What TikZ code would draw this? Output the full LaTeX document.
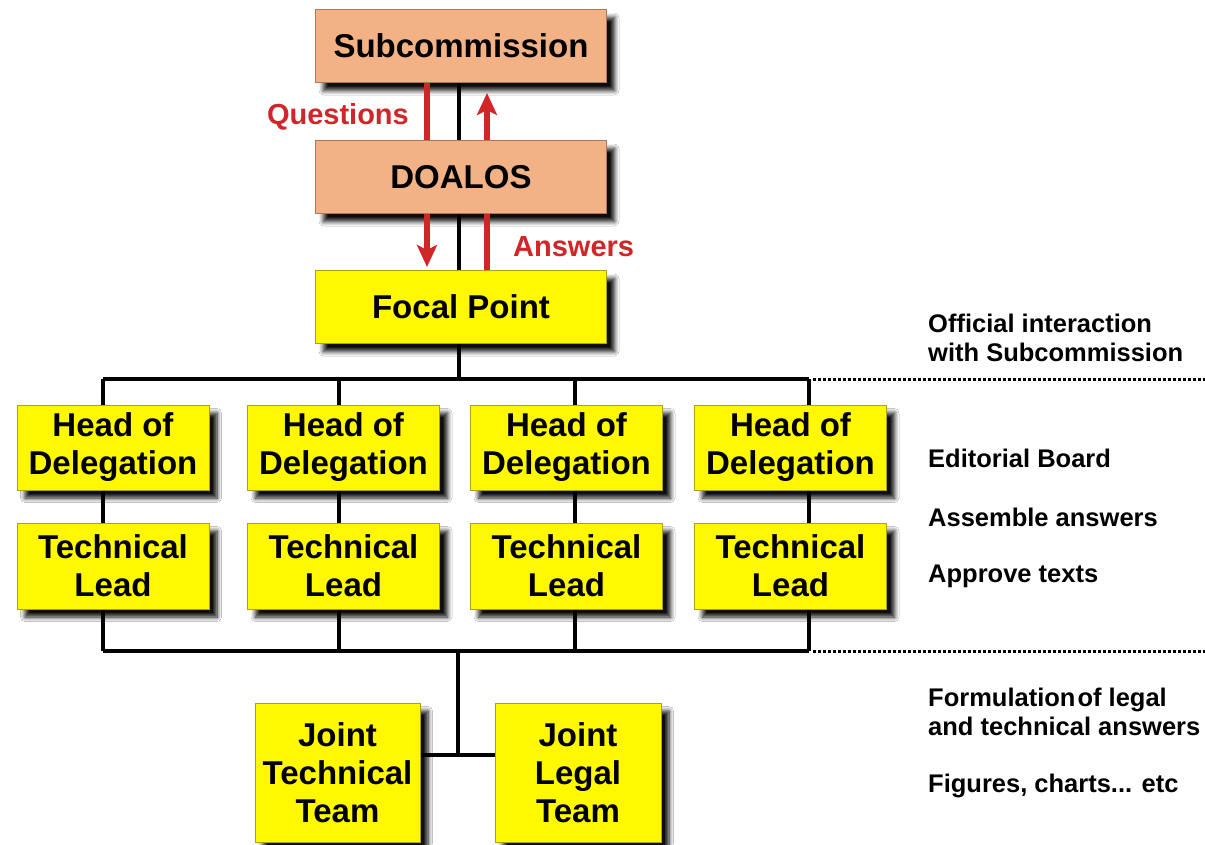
\documentclass[tikz,border=0pt]{standalone}
\usepackage{fontspec}
\setmainfont{Liberation Sans}
\usetikzlibrary{arrows.meta,shadows.blur}
\definecolor{salmonfill}{RGB}{243,178,134}
\definecolor{salmonline}{RGB}{170,120,90}
\definecolor{yelfill}{RGB}{255,248,0}
\definecolor{yelline}{RGB}{175,160,20}
\definecolor{arrred}{RGB}{208,38,40}
\tikzset{
  boxbase/.style={rectangle, line width=1pt, inner sep=0pt, align=center,
    font=\bfseries\fontsize{33}{38}\selectfont,
    blur shadow={shadow xshift=8pt, shadow yshift=-8pt, shadow blur radius=4.5pt, shadow opacity=95, shadow blur steps=8}},
  sbox/.style={boxbase, fill=salmonfill, draw=salmonline, minimum width=291pt, minimum height=73pt},
  ybox/.style={boxbase, fill=yelfill, draw=yelline},
  conn/.style={line width=3.5pt, black},
  dots/.style={line width=3pt, black, dash pattern=on 2.6pt off 2.4pt},
  redline/.style={line width=6pt, arrred},
  redarrow/.style={redline, -{Stealth[length=22pt, width=20pt, inset=5pt]}},
  redlabel/.style={text=arrred, font=\bfseries\fontsize{29}{34}\selectfont, inner sep=0pt},
  note/.style={font=\bfseries\fontsize{25.5}{28.5}\selectfont, align=left, inner sep=0pt, anchor=west}
}
\begin{document}
\begin{tikzpicture}[x=1pt, y=-1pt]
\useasboundingbox[fill=white] (0,0) rectangle (1205,844);

% top boxes
\node[sbox] (sub) at (461,46) {Subcommission};
\node[sbox] (doa) at (461,177) {DOALOS};
\node[ybox, minimum width=291pt, minimum height=73pt] (fp) at (461,307) {Focal Point};

% delegation boxes
\foreach \i/\cx in {1/113, 2/343.5, 3/566.5, 4/790.5}{
  \node[ybox, minimum width=192pt, minimum height=85pt] (hod\i) at (\cx,447.5) {Head of\\Delegation};
  \node[ybox, minimum width=192pt, minimum height=86pt] (tl\i) at (\cx,566) {Technical\\Lead};
}

% joint teams
\node[ybox, minimum width=165pt, minimum height=139pt] (jtt) at (337.5,772.5) {Joint\\Technical\\Team};
\node[ybox, minimum width=166pt, minimum height=139pt] (jlt) at (578,772.5) {Joint\\Legal\\Team};

% coordinates
\coordinate (cx) at (459,0);
\coordinate (lx) at (427,0);
\coordinate (rx) at (487,0);
\coordinate (tb1) at (103,379);
\coordinate (tb2) at (339,379);
\coordinate (tb3) at (575,379);
\coordinate (tb4) at (809,379);
\coordinate (tbm) at (459,379);
\coordinate (bb1) at (103,651);
\coordinate (bb2) at (339,651);
\coordinate (bb3) at (575,651);
\coordinate (bb4) at (809,651);
\coordinate (bbm) at (458,651);
\coordinate (jm) at (458,755);
\coordinate (te) at (1205,379);
\coordinate (be) at (1205,651);

% black central links
\draw[conn] (sub.south -| cx) -- (doa.north -| cx);
\draw[conn] (doa.south -| cx) -- (fp.north -| cx);
\draw[conn] (fp.south -| cx) -- (tbm);

% red arrows
\draw[redline] (sub.south -| lx) -- (doa.north -| lx);
\draw[redarrow, shorten >=3pt] (doa.south -| lx) -- (fp.north -| lx);
\draw[redarrow, shorten >=10pt] (doa.north -| rx) -- (sub.south -| rx);
\draw[redline] (fp.north -| rx) -- (doa.south -| rx);
\node[redlabel, anchor=east] (q) at (409,117) {Questions};
\node[redlabel, anchor=west] (a) at (513,247) {Answers};

% buses
\draw[conn] (tb1) -- (tb4);
\draw[conn] (bb1) -- (bb4);
\draw[dots] (tb4) ++(4,0) -- (te);
\draw[dots] (bb4) ++(4,0) -- (be);
\foreach \i in {1,2,3,4}{
  \draw[conn] (tb\i) -- (tb\i |- hod\i.north);
  \draw[conn] (hod\i.south -| tb\i) -- (tl\i.north -| tb\i);
  \draw[conn] (tl\i.south -| bb\i) -- (bb\i);
}
\draw[conn] (bbm) -- (jm);
\draw[conn] (jtt.east |- jm) -- (jlt.west |- jm);

% notes
\node[note] (n1) at (928,338) {Official interaction\\with Subcommission};
\node[note] (n2) at (928,458) {Editorial Board};
\node[note] (n3) at (928,517) {Assemble answers};
\node[note] (n4) at (928,576) {Approve texts};
\node[note] (n5) at (928,712) {Formulation\hspace{2pt}of legal\\and technical answers};
\node[note] (n6) at (928,786) {Figures, charts... etc};
\end{tikzpicture}
\end{document}
